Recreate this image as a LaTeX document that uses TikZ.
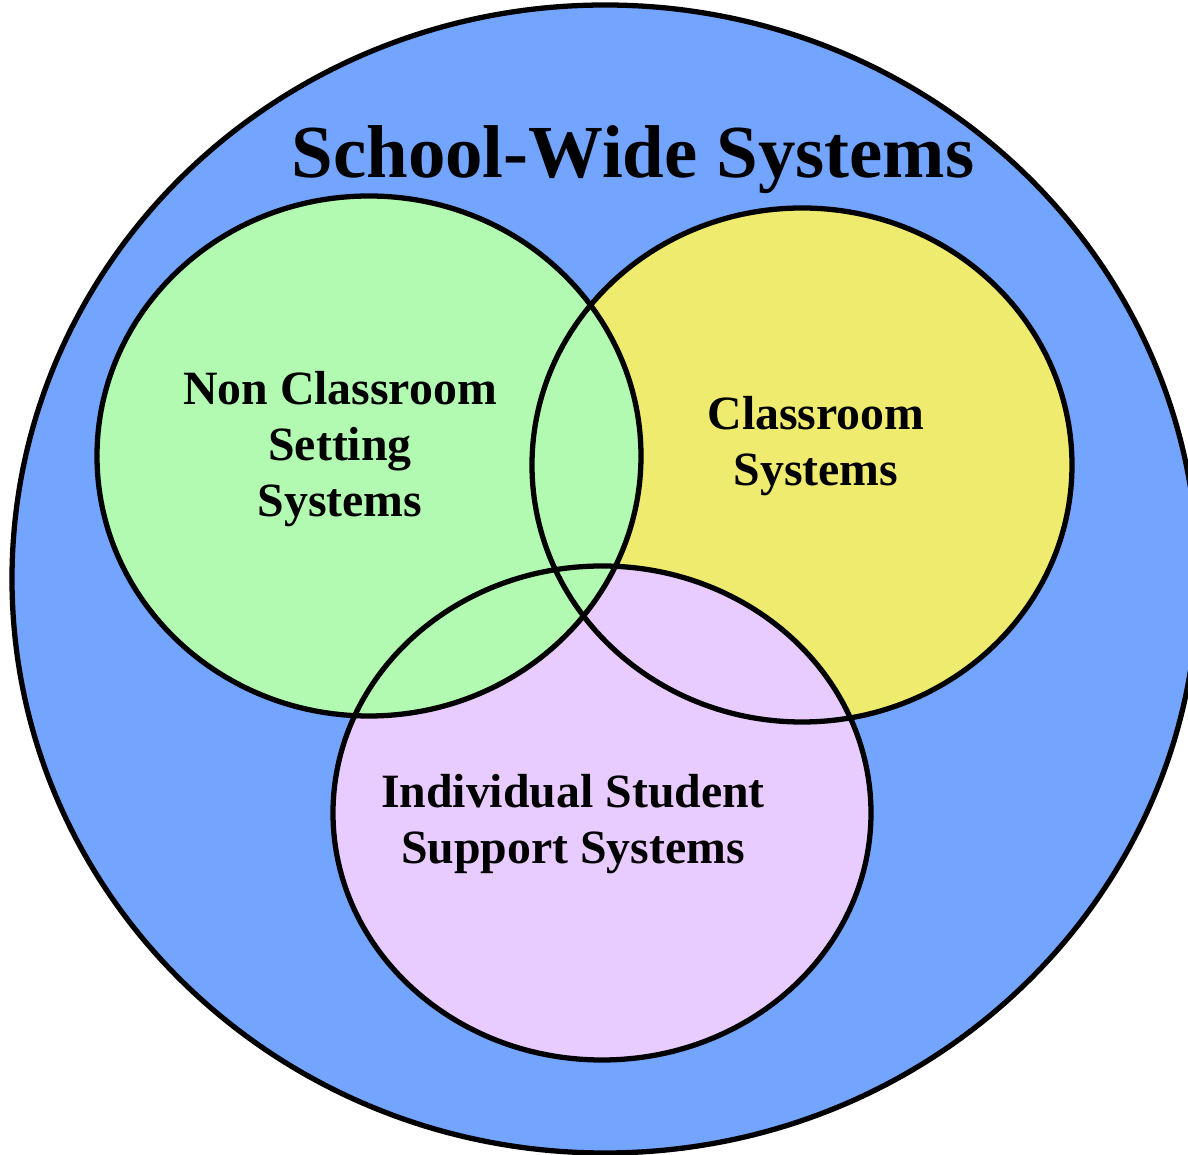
\documentclass[tikz,border=0pt]{standalone}
\usepackage{fontspec}
\setmainfont{Liberation Serif}
\usepackage{tikz}
\definecolor{schoolblue}{RGB}{115,165,255}
\definecolor{nongreen}{RGB}{178,250,178}
\definecolor{classyellow}{RGB}{238,235,110}
\definecolor{indpurple}{RGB}{232,204,255}
\tikzset{ring/.style={line width=1.5pt,draw=black},
  lbl/.style={align=center,font=\fontsize{13.6}{15.9}\selectfont\bfseries}}

\begin{document}
\begin{tikzpicture}
     \useasboundingbox (0,0) rectangle (11.88,-11.55);
     \clip (0,0) rectangle (11.88,-11.55);
     % outer circle
     \filldraw[fill=schoolblue,ring] (6.05,-5.79) ellipse (5.93 and 5.74);
     % the three sets
     \fill[classyellow] (8.02,-4.65) ellipse (2.70 and 2.57);
     \fill[indpurple] (6.02,-8.13) ellipse (2.69 and 2.47);
     \fill[nongreen] (3.69,-4.56) ellipse (2.72 and 2.60);
     \draw[ring] (8.02,-4.65) ellipse (2.70 and 2.57);
     \draw[ring] (6.02,-8.13) ellipse (2.69 and 2.47);
     \draw[ring] (3.69,-4.56) ellipse (2.72 and 2.60);
     \node[font=\fontsize{21.3}{24}\selectfont\bfseries] at (6.33, -1.60)   (sw) {School-Wide Systems};
     \node[lbl] at (3.40, -4.49)   (nc) {Non Classroom\\Setting\\Systems};
     \node[lbl] at (8.16, -4.46)   (cs) {Classroom\\Systems};
     \node[lbl] at (5.73, -8.24)   (is) {Individual Student\\Support Systems};
\end{tikzpicture}
\end{document}
